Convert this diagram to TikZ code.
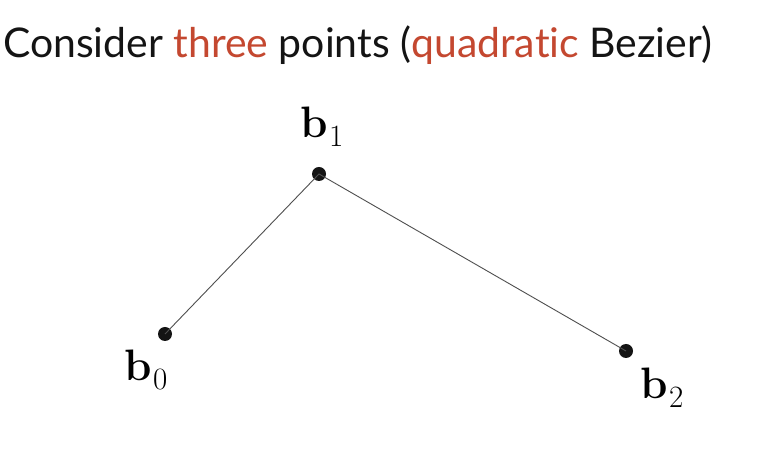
\documentclass[tikz,border=0pt]{standalone}
\usepackage{fontspec}
\setsansfont{Lato}[Ligatures=NoCommon]
\definecolor{accent}{RGB}{196,72,48}
\definecolor{ink}{RGB}{20,20,20}
\newcommand{\bvec}[1]{\textbf{b}\kern1pt\raisebox{-9pt}{\fontsize{31}{31}\selectfont #1}}
\begin{document}
\begin{tikzpicture}[x=1pt,y=1pt,
  pt/.style={circle,fill=ink,inner sep=0pt,minimum size=14pt},
  lbl/.style={font=\fontsize{44}{48}\selectfont,inner sep=0pt},
  seg/.style={draw=ink!75,line width=0.9pt}]
\useasboundingbox[fill=white] (0,0) rectangle (768,449);
\node[anchor=base west,inner sep=0pt,text=ink] (title) at (3,391)
  {\resizebox{709pt}{!}{\sffamily Consider \textcolor{accent}{three} points (\textcolor{accent}{quadratic} Bezier)}};
\node[pt] (b0) at (165,115) {};
\node[pt] (b1) at (319,275) {};
\node[pt] (b2) at (626,98) {};
\draw[seg] (b0.center) -- (b1.center) -- (b2.center);
\node[lbl] (l0) at (146,79) {\bvec{0}};
\node[lbl] (l1) at (322,322) {\bvec{1}};
\node[lbl] (l2) at (662,61) {\bvec{2}};
\end{tikzpicture}
\end{document}
